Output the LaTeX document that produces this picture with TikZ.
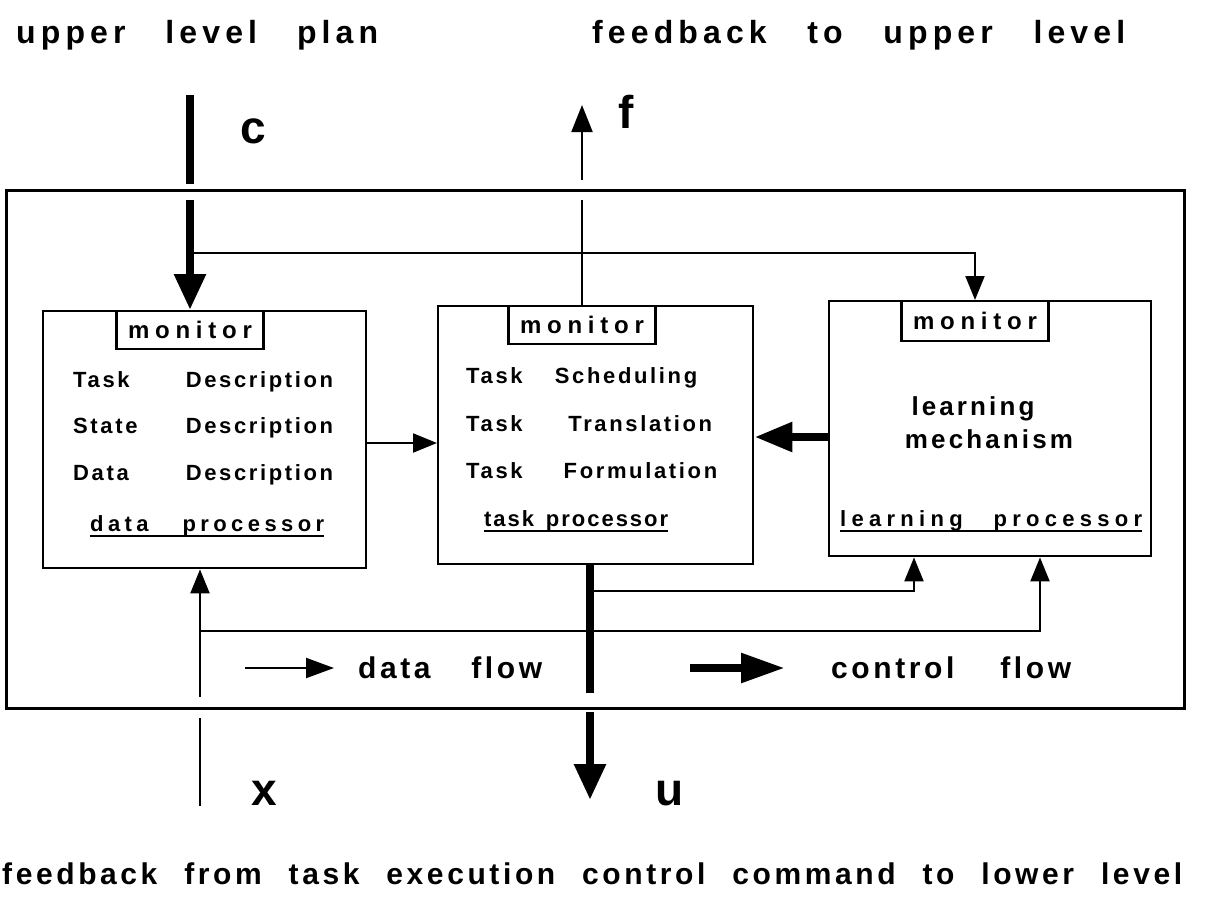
\documentclass[tikz,border=0pt]{standalone}
\usepackage{fontspec}
\setmainfont{Liberation Sans}[LetterSpace=12]
\usetikzlibrary{arrows.meta}
\tikzset{
  frame/.style={draw, line width=2.6pt, inner sep=0pt},
  box/.style={draw, line width=2.4pt, inner sep=0pt, anchor=north west},
  mon/.style={draw, line width=2.2pt, inner sep=0pt, anchor=north,
    minimum width=147pt, minimum height=38pt,
    font=\bfseries\fontsize{24}{28}\selectfont\addfontfeature{LetterSpace=24}},
  txt/.style={inner sep=0pt, anchor=base west, font=\bfseries\fontsize{22}{26}\selectfont},
  big/.style={inner sep=0pt, anchor=base, font=\bfseries\fontsize{26}{30}\selectfont},
  ttl/.style={inner sep=0pt, anchor=base west, font=\bfseries\fontsize{32}{36}\selectfont\addfontfeature{LetterSpace=16}},
  low/.style={inner sep=0pt, anchor=base west, font=\bfseries\fontsize{30}{36}\selectfont\addfontfeature{LetterSpace=12}},
  lbl/.style={inner sep=0pt, anchor=base west, font=\bfseries\fontsize{46}{50}\selectfont\addfontfeature{LetterSpace=0}},
  uline/.style={line width=1.8pt},
  dline/.style={line width=2.1pt},
  cline/.style={line width=8.5pt},
  dtip/.style={-{Triangle[length=24pt,width=19pt]}},
  ftip/.style={-{Triangle[length=27pt,width=21pt]}},
  ctip/.style={-{Triangle[length=36pt,width=30pt]}},
  wtip/.style={-{Triangle[length=38pt,width=28pt]}},
  legd/.style={-{Triangle[length=28pt,width=20pt]}},
  legc/.style={-{Triangle[length=44pt,width=28pt]}},
}
\begin{document}
\begin{tikzpicture}[x=1pt,y=-1pt]
\useasboundingbox (0,0) rectangle (1221,903);
\fill[white] (0,0) rectangle (1221,903);

% outer frame of the controller
\node[frame, minimum width=1178pt, minimum height=518pt, anchor=north west] (frm) at (5,189) {};

% the three processors
\node[box, minimum width=323pt, minimum height=257pt] (dp) at (42,310) {};
\node[box, minimum width=315pt, minimum height=258pt] (tp) at (437,305) {};
\node[box, minimum width=322pt, minimum height=255pt] (lp) at (828,300) {};

\node[mon] (dmon) at (190,310) {monitor};
\node[mon] (tmon) at (582,305) {monitor};
\node[mon, minimum height=40pt] (lmon) at (975,300) {monitor};

% data processor
\node[txt] (d1) at (73,387) {\makebox[260pt][s]{Task Description}};
\node[txt] (d2) at (73,433) {\makebox[260pt][s]{State Description}};
\node[txt] (d3) at (73,480) {\makebox[260pt][s]{Data Description}};
\node[txt, font=\bfseries\fontsize{22}{26}\selectfont\addfontfeature{LetterSpace=20}] (d4) at (90,531) {\makebox[234pt][s]{data processor}};
\draw[uline] ([yshift=-5pt]d4.base west) -- ([yshift=-5pt]d4.base east);

% task processor
\node[txt] (t1) at (466,383) {\makebox[231pt][s]{Task Scheduling}};
\node[txt] (t2) at (466,431) {\makebox[246pt][s]{Task Translation}};
\node[txt] (t3) at (466,478) {\makebox[251pt][s]{Task Formulation}};
\node[txt, font=\bfseries\fontsize{22}{26}\selectfont\addfontfeature{LetterSpace=9}] (t4) at (484,526) {\makebox[184pt][s]{task processor}};
\draw[uline] ([yshift=-5pt]t4.base west) -- ([yshift=-5pt]t4.base east);

% learning processor
\node[big] (l1) at (973,415) {learning};
\node[big] (l2) at (989,448) {mechanism};
\node[txt, font=\bfseries\fontsize{22}{26}\selectfont\addfontfeature{LetterSpace=24}] (l3) at (840,526) {\makebox[302pt][s]{learning processor}};
\draw[uline] ([yshift=-5pt]l3.base west) -- ([yshift=-5pt]l3.base east);

% headings
\node[ttl] (hup) at (16,43) {\makebox[362pt][s]{upper level plan}};
\node[ttl] (hfb) at (592,43) {\makebox[533pt][s]{feedback to upper level}};
\node[low] (hlow) at (2,884) {\makebox[1180pt][s]{feedback from task execution control command to lower level}};

% signal names
\node[lbl] (lc) at (240,143) {c};
\node[lbl] (lf) at (618,128) {f};
\node[lbl] (lx) at (251,805) {x};
\node[lbl] (lu) at (655,805) {u};

% c : plan from the upper level
\coordinate (cTop) at (190,95);
\coordinate (cA) at (190,184);
\coordinate (cB) at (190,200);
\coordinate (cJ) at (190,253);
\draw[cline] (cTop) -- (cA);
\draw[cline, ctip] (cB) -- (dmon.north);
\draw[dline, dtip] (cJ) -| (lmon.north);

% f : feedback to the upper level
\coordinate (fA) at (582,200);
\coordinate (fB) at (582,180);
\coordinate (fTop) at (582,105);
\draw[dline] (tmon.north) -- (fA);
\draw[dline, ftip] (fB) -- (fTop);

% between the processors
\coordinate (yd) at (0,443);
\coordinate (yl) at (0,437);
\draw[dline, dtip] (dp.east |- yd) -- (tp.west |- yd);
\draw[cline, wtip] (lp.west |- yl) -- (tp.east |- yl);

% u : command to the lower level
\coordinate (uX) at (590,0);
\coordinate (uA) at (590,693);
\coordinate (uB) at (590,712);
\coordinate (uTip) at (590,800);
\coordinate (uJ) at (590,591);
\coordinate (lxa) at (914,0);
\draw[cline] (uX |- tp.south) -- (uA);
\draw[cline, ctip] (uB) -- (uTip);
\draw[dline, dtip] (uJ) -| (lxa |- lp.south);

% x : feedback from task execution
\coordinate (xBot) at (200,806);
\coordinate (xA) at (200,718);
\coordinate (xB) at (200,697);
\coordinate (xJ) at (200,631);
\coordinate (lxb) at (1040,0);
\draw[dline] (xBot) -- (xA);
\draw[dline, dtip] (xB) -- (xB |- dp.south);
\draw[dline, dtip] (xJ) -| (lxb |- lp.south);

% legend
\coordinate (ld1) at (245,668);
\coordinate (ld2) at (334,668);
\coordinate (lc1) at (690,668);
\coordinate (lc2) at (785,668);
\draw[dline, legd] (ld1) -- (ld2);
\draw[cline, legc] (lc1) -- (lc2);
\node[low] (tdf) at (358,678) {\makebox[184pt][s]{data flow}};
\node[low] (tcf) at (831,678) {\makebox[240pt][s]{control flow}};
\end{tikzpicture}
\end{document}
